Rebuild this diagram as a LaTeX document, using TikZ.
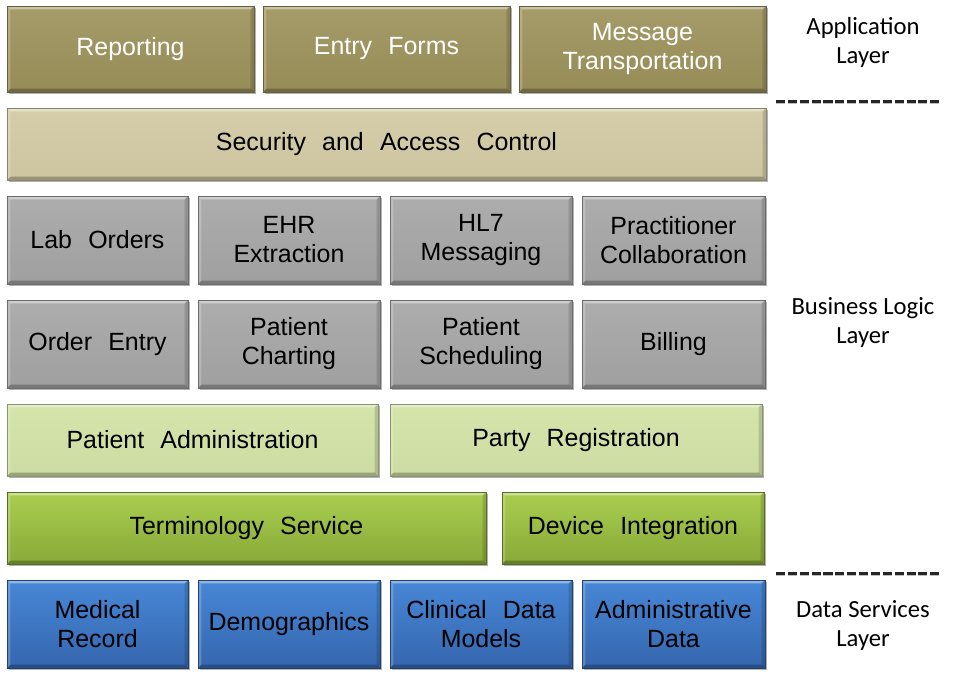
\documentclass[tikz,border=0pt]{standalone}
\usepackage{fontspec}
\setmainfont{Liberation Sans}
\newfontfamily\labelfont{Carlito}
\usetikzlibrary{shadows}
\definecolor{appc}{HTML}{9E935C}
\definecolor{secc}{HTML}{D3CBA5}
\definecolor{grayc}{HTML}{A6A6A6}
\definecolor{lgreenc}{HTML}{D3E3A7}
\definecolor{greentop}{HTML}{AACE50}
\definecolor{greenbot}{HTML}{88A938}
\definecolor{bluetop}{HTML}{4787D6}
\definecolor{bluebot}{HTML}{3566AE}
\newcommand\wgap{\hspace{0.65em}}
\tikzset{
  blockbase/.style={draw=#1!65!black, line width=0.4pt, inner sep=0pt, outer sep=0pt,
    align=center, font=\fontsize{18.7}{21.75}\selectfont,
    drop shadow={shadow xshift=1.2pt, shadow yshift=-1.5pt, opacity=0.3, fill=black},
    path picture={
      \fill[white,opacity=0.4] (path picture bounding box.north west) -- (path picture bounding box.north east)
        -- ([shift={(-2.5pt,-2.5pt)}]path picture bounding box.north east) -- ([shift={(2.5pt,-2.5pt)}]path picture bounding box.north west) -- cycle;
      \fill[white,opacity=0.2] (path picture bounding box.north west) -- (path picture bounding box.south west)
        -- ([shift={(2.5pt,2.5pt)}]path picture bounding box.south west) -- ([shift={(2.5pt,-2.5pt)}]path picture bounding box.north west) -- cycle;
      \fill[black,opacity=0.25] (path picture bounding box.south west) -- (path picture bounding box.south east)
        -- ([shift={(-2.5pt,2.5pt)}]path picture bounding box.south east) -- ([shift={(2.5pt,2.5pt)}]path picture bounding box.south west) -- cycle;
      \fill[black,opacity=0.15] (path picture bounding box.north east) -- (path picture bounding box.south east)
        -- ([shift={(-2.5pt,2.5pt)}]path picture bounding box.south east) -- ([shift={(-2.5pt,-2.5pt)}]path picture bounding box.north east) -- cycle;
    }},
  appbox/.style={blockbase=appc, top color=appc!92!white, bottom color=appc!95!black, text=white},
  secbox/.style={blockbase=secc, top color=secc!95!white, bottom color=secc!97!black, text=black},
  graybox/.style={blockbase=grayc, top color=grayc!92!white, bottom color=grayc!96!black, text=black},
  lgreenbox/.style={blockbase=lgreenc, top color=lgreenc!95!white, bottom color=lgreenc!97!black, text=black},
  greenbox/.style={blockbase=greenbot, top color=greentop, bottom color=greenbot, text=black},
  bluebox/.style={blockbase=bluebot, top color=bluetop, bottom color=bluebot, text=black},
  layerlabel/.style={align=center, font=\labelfont\fontsize{18.5}{21.75}\selectfont, inner sep=0pt},
  layersep/.style={draw=black!85, line width=2.25pt, dash pattern=on 6.8pt off 2.1pt,
    preaction={draw=black, opacity=0.25, line width=2.25pt, dash pattern=on 6.8pt off 2.1pt, transform canvas={yshift=-1pt}}}
}
\newcommand\blk[7]{\node[#6, minimum width={(#4-#2)*0.75pt}, minimum height={(#5-#3)*0.75pt}] (#1) at ({(#2+#4)/2},{(#3+#5)/2}) {#7};}
\begin{document}
\begin{tikzpicture}[x=0.75pt,y=-0.75pt]
\useasboundingbox (0,0) rectangle (954,678);
% Application layer
\blk{rep}{7}{6}{254}{92}{appbox}{Reporting}
\blk{ent}{263}{6}{510}{92}{appbox}{Entry\wgap Forms}
\blk{msg}{519}{6}{766}{92}{appbox}{Message\\Transportation}
% Security
\blk{sec}{7}{108}{766}{180}{secbox}{Security\wgap and\wgap Access\wgap Control}
% Business rows
\blk{lab}{7}{196}{188}{284}{graybox}{Lab\wgap Orders}
\blk{ehr}{198}{196}{380}{284}{graybox}{EHR\\Extraction}
\blk{hl7}{390}{196}{572}{284}{graybox}{HL7\\Messaging}
\blk{pra}{582}{196}{765}{284}{graybox}{Practitioner\\Collaboration}
\blk{ord}{7}{300}{188}{388}{graybox}{Order\wgap Entry}
\blk{pch}{198}{300}{380}{388}{graybox}{Patient\\Charting}
\blk{psc}{390}{300}{572}{388}{graybox}{Patient\\Scheduling}
\blk{bil}{582}{300}{765}{388}{graybox}{Billing}
\blk{pad}{7}{404}{378}{476}{lgreenbox}{Patient\wgap Administration}
\blk{par}{390}{404}{762}{476}{lgreenbox}{Party\wgap Registration}
\blk{ter}{7}{492}{486}{564}{greenbox}{Terminology\wgap Service}
\blk{dev}{502}{492}{764}{564}{greenbox}{Device\wgap Integration}
% Data services
\blk{med}{7}{580}{188}{668}{bluebox}{Medical\\Record}
\blk{dem}{198}{580}{380}{668}{bluebox}{Demographics}
\blk{cli}{390}{580}{572}{668}{bluebox}{Clinical\wgap Data\\Models}
\blk{adm}{582}{580}{765}{668}{bluebox}{Administrative\\Data}
% Layer labels
\node[layerlabel] (lapp) at (863,42) {Application\\Layer};
\node[layerlabel] (lbus) at (863,322) {Business Logic\\Layer};
\node[layerlabel] (ldat) at (863,625) {Data Services\\Layer};
% separators
\coordinate (s1a) at (776,101); \coordinate (s1b) at (941,101);
\coordinate (s2a) at (776,573); \coordinate (s2b) at (941,573);
\draw[layersep] (s1a) -- (s1b);
\draw[layersep] (s2a) -- (s2b);
\end{tikzpicture}
\end{document}
